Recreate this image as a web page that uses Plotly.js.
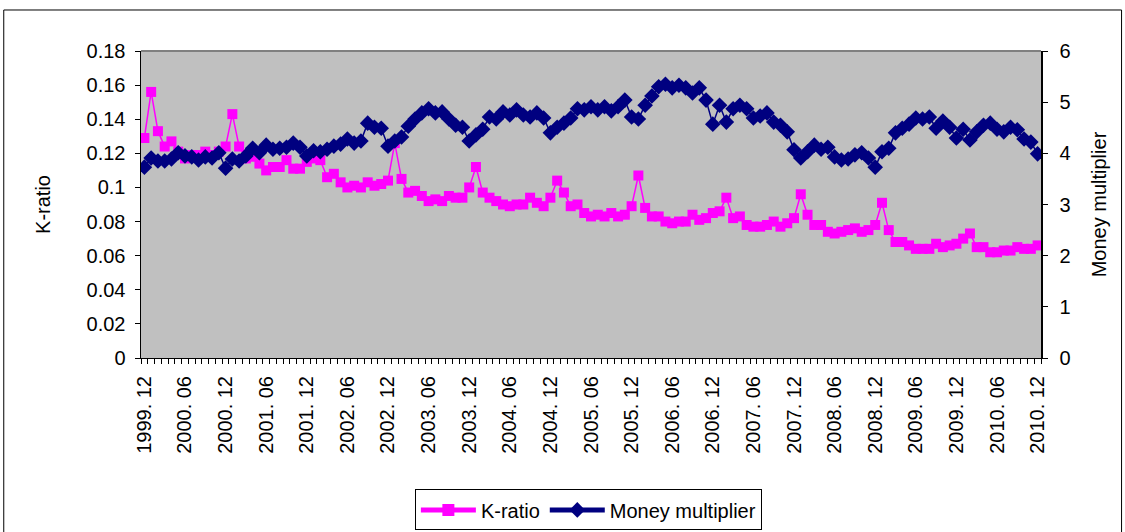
<!DOCTYPE html>
<html>
<head>
<meta charset="utf-8">
<script src="https://cdn.plot.ly/plotly-3.0.1.min.js"></script>
<style>
html,body{margin:0;padding:0;background:#fff;}
#chart{width:1125px;height:532px;}
</style>
</head>
<body>
<div id="chart"></div>
<script>
// Monthly categories 1999.12 .. 2010.12
const categories = [];
(function(){
  let y = 1999, m = 12;
  while (y < 2010 || (y === 2010 && m <= 12)) {
    categories.push(y + ". " + (m < 10 ? "0" + m : "" + m));
    m++; if (m > 12) { m = 1; y++; }
  }
})();

const kRatio = [
  0.129,0.156,0.133,0.124,0.127,0.121,0.117,0.119,0.119,0.121,0.119,0.121,
  0.124,0.143,0.124,0.117,0.118,0.114,0.110,0.112,0.112,0.116,0.111,0.111,
  0.115,0.117,0.116,0.106,0.108,0.103,0.100,0.101,0.100,0.103,0.101,0.102,
  0.104,0.126,0.105,0.097,0.098,0.095,0.092,0.093,0.092,0.095,0.094,0.094,
  0.100,0.112,0.097,0.094,0.092,0.090,0.089,0.090,0.090,0.094,0.091,0.089,
  0.094,0.104,0.097,0.089,0.090,0.085,0.083,0.084,0.083,0.085,0.083,0.084,
  0.089,0.107,0.088,0.083,0.083,0.080,0.079,0.080,0.080,0.084,0.081,0.082,
  0.085,0.086,0.094,0.082,0.083,0.078,0.077,0.077,0.078,0.080,0.077,0.079,
  0.082,0.096,0.084,0.078,0.078,0.074,0.073,0.074,0.075,0.076,0.074,0.075,
  0.078,0.091,0.075,0.068,0.068,0.066,0.064,0.064,0.064,0.067,0.065,0.066,
  0.067,0.070,0.073,0.065,0.065,0.062,0.062,0.063,0.063,0.065,0.064,0.064,
  0.066
];

const moneyMultiplier = [
  3.73,3.91,3.85,3.85,3.89,4.01,3.95,3.93,3.87,3.93,3.91,4.01,
  3.71,3.89,3.85,3.95,4.10,4.01,4.16,4.08,4.10,4.12,4.20,4.12,
  3.95,4.05,4.03,4.08,4.14,4.18,4.28,4.20,4.24,4.59,4.51,4.49,
  4.14,4.24,4.32,4.53,4.67,4.79,4.87,4.79,4.81,4.67,4.55,4.51,
  4.24,4.36,4.47,4.71,4.67,4.81,4.75,4.85,4.75,4.71,4.79,4.69,
  4.40,4.51,4.59,4.69,4.87,4.85,4.91,4.85,4.91,4.83,4.91,5.04,
  4.71,4.67,4.94,5.12,5.30,5.35,5.28,5.33,5.28,5.18,5.28,5.04,
  4.57,4.94,4.61,4.87,4.94,4.87,4.69,4.73,4.79,4.61,4.55,4.42,
  4.07,3.91,4.03,4.16,4.08,4.12,3.93,3.87,3.89,3.97,4.01,3.91,
  3.73,4.03,4.10,4.40,4.49,4.57,4.69,4.67,4.71,4.49,4.63,4.51,
  4.30,4.47,4.26,4.42,4.55,4.59,4.47,4.42,4.51,4.46,4.28,4.22,
  3.99
];

const tickLabels = ["1999. 12","2000. 06","2000. 12","2001. 06","2001. 12","2002. 06",
  "2002. 12","2003. 06","2003. 12","2004. 06","2004. 12","2005. 06","2005. 12",
  "2006. 06","2006. 12","2007. 06","2007. 12","2008. 06","2008. 12","2009. 06",
  "2009. 12","2010. 06","2010. 12"];

const xIdx = categories.map((c, i) => i);
const tickVals = tickLabels.map(t => categories.indexOf(t));

const FAM = "Liberation Sans, Arial, sans-serif";
const FS = 20;
const font = {family: FAM, color: "#000", size: FS};

const traces = [
  {
    x: xIdx, y: kRatio, text: categories, name: "K-ratio", type: "scatter", mode: "lines+markers",
    line: {color: "#FF00FF", width: 1.5},
    marker: {symbol: "square", size: 10, color: "#FF00FF"},
    yaxis: "y", hovertemplate: "%{text}: %{y}<extra>K-ratio</extra>"
  },
  {
    x: xIdx, y: moneyMultiplier, text: categories, name: "Money multiplier", type: "scatter", mode: "lines+markers",
    line: {color: "#000080", width: 1.5},
    marker: {symbol: "diamond", size: 12, color: "#000080"},
    yaxis: "y2", hovertemplate: "%{text}: %{y}<extra>Money multiplier</extra>"
  }
];

const layout = {
  width: 1125, height: 532,
  margin: {l: 141, r: 84, t: 51, b: 174, pad: 0},
  paper_bgcolor: "#ffffff",
  plot_bgcolor: "#C0C0C0",
  font: font,
  showlegend: true,
  legend: {
    orientation: "h", x: 0.523, xref: "container", xanchor: "center",
    y: 0.003, yref: "container", yanchor: "bottom",
    bordercolor: "#000", borderwidth: 1, bgcolor: "#fff",
    font: {family: FAM, size: FS, color: "#000"},
    tracegroupgap: 0, itemsizing: "constant", itemwidth: 55
  },
  xaxis: {
    range: [-0.5, categories.length - 0.5],
    tickmode: "array", tickvals: tickVals, ticktext: tickLabels,
    tickangle: -90, ticks: "", showgrid: false, zeroline: false,
    showline: true, linecolor: "#000", linewidth: 1,
    ticklabelstandoff: 9,
    tickfont: {family: FAM, size: FS, color: "#000"},
    minor: {ticks: "outside", ticklen: 5, tickcolor: "#000", tick0: -0.5, dtick: 1, showgrid: false},
    fixedrange: true
  },
  yaxis: {
    title: {text: "K-ratio", font: {family: FAM, size: FS, color: "#000"}, standoff: 30},
    range: [0, 0.18], dtick: 0.02,
    ticks: "outside", ticklen: 5, tickcolor: "#000",
    ticklabelstandoff: 5,
    showgrid: false, zeroline: false, showline: true, linecolor: "#000", linewidth: 1.5,
    tickfont: {family: FAM, size: FS, color: "#000"},
    fixedrange: true
  },
  yaxis2: {
    title: {text: "Money multiplier", font: {family: FAM, size: FS, color: "#000"}, standoff: 22},
    range: [0, 6], dtick: 1,
    overlaying: "y", side: "right",
    ticks: "outside", ticklen: 5, tickcolor: "#000",
    ticklabelstandoff: 8,
    showgrid: false, zeroline: false, showline: true, linecolor: "#000", linewidth: 1.5,
    tickfont: {family: FAM, size: FS, color: "#000"},
    fixedrange: true
  },
  shapes: [
    {type: "line", xref: "paper", yref: "paper", x0: 0, x1: 1, y0: 1, y1: 1,
     line: {color: "#808080", width: 2}},
    {type: "rect", xref: "paper", yref: "paper", x0: -0.1525, x1: 1.0895, y0: -0.6, y1: 1.1336,
     line: {color: "#000", width: 1}, layer: "below"}
  ]
};

Plotly.newPlot("chart", traces, layout, {displayModeBar: false, staticPlot: true});
</script>
</body>
</html>
